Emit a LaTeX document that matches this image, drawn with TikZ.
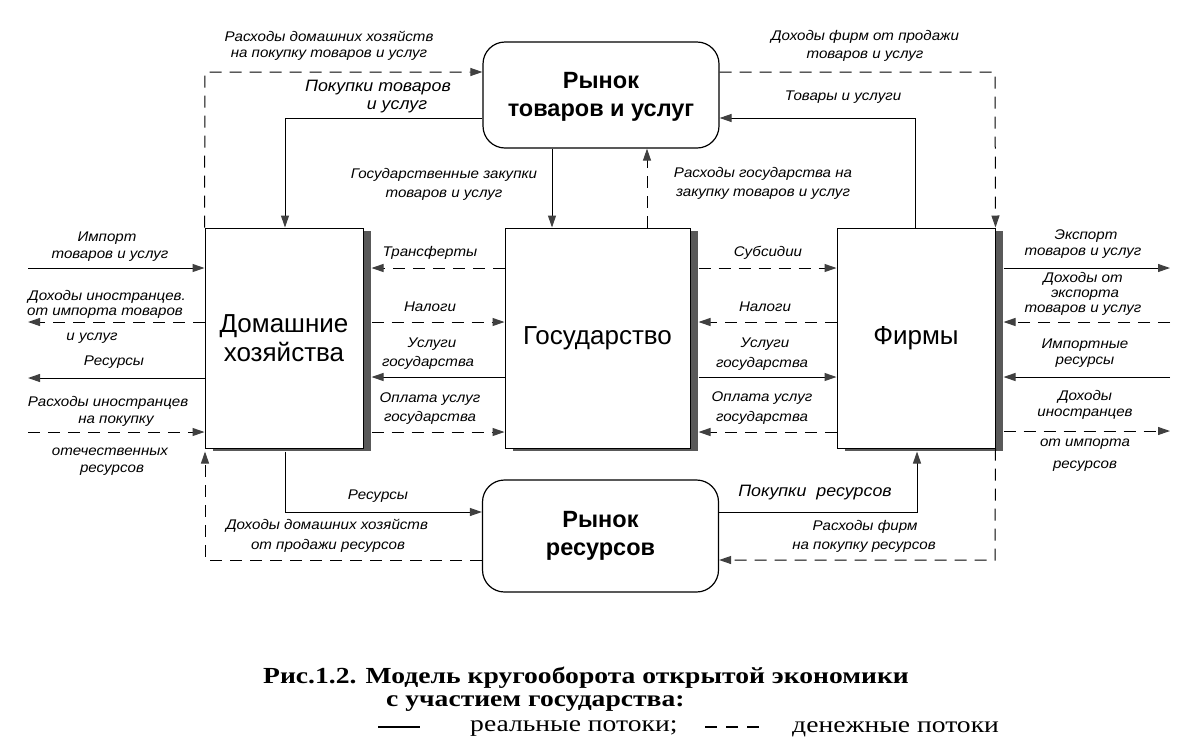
\documentclass[tikz,border=0pt]{standalone}
\usepackage{fontspec}
\setmainfont{Liberation Sans}
\newfontfamily\lblfont[FakeStretch=1.08]{Liberation Sans}
\newfontfamily\capfont[FakeStretch=1.2]{Liberation Serif}
\usetikzlibrary{arrows.meta,shadows,calc}
\begin{document}
\begin{tikzpicture}[x=1pt,y=-1pt,
  lbl/.style={font=\lblfont\fontsize{14}{17}\selectfont\itshape, inner sep=0pt, align=center},
  lblbig/.style={font=\lblfont\fontsize{16.5}{19}\selectfont\itshape, inner sep=0pt, align=center},
  agent/.style={draw, line width=1pt, fill=white, minimum width=158pt, minimum height=220pt,
     font=\fontsize{26}{29}\selectfont, align=center,
     drop shadow={shadow xshift=8pt, shadow yshift=-3pt, fill=black!65, opacity=1}},
  market/.style={draw, line width=1.2pt, rounded corners=22pt, fill=white, minimum width=236pt},
  mtext/.style={font=\fontsize{23.5}{28}\selectfont\bfseries, align=center, inner sep=0pt},
  real/.style={line width=1pt},
  money/.style={line width=1pt, dash pattern=on 12pt off 8pt},
  arr/.style={-{Triangle[length=12pt,width=8pt,fill=black!75,color=black!75]}},
  legline/.style={line width=1.2pt},
  captxt/.style={font=\capfont\fontsize{23}{26}\selectfont, anchor=west, inner sep=0pt}
]
\fill[white] (0,0) rectangle (1195,748);
\useasboundingbox (0,0) rectangle (1195,748);

% boxes
\node[agent] (hh) at (284,338) {Домашние\\хозяйства};
\node[agent, minimum width=185pt] (gov) at (597.5,338) {Государство};
\node[agent] (firm) at (916,338) {Фирмы};
\node[market, minimum height=106pt] (mg) at (601,95) {};
\node[mtext] (mgt) at (601,97) {Рынок\\товаров и услуг};
\node[market, minimum height=112pt] (mr) at (600.5,536) {};
\node[mtext] (mrt) at (600.5,536) {Рынок\\ресурсов};

% helper coordinates
\coordinate (hhR) at ($(hh.east)+(8,0)$);
\coordinate (govR) at ($(gov.east)+(8,0)$);
\coordinate (firmR) at ($(firm.east)+(8,0)$);
\coordinate (hhB) at ($(hh.south)+(0,3)$);
\coordinate (L1) at (0,268);
\coordinate (L2) at (0,322);
\coordinate (L3) at (0,377);
\coordinate (L4) at (0,432);
\coordinate (W1) at (28,268);
\coordinate (W2) at (28,322);
\coordinate (W3) at (28,378);
\coordinate (W4) at (28,432);
\coordinate (E1) at (1170,268);
\coordinate (E2) at (1170,322);
\coordinate (E3) at (1170,377);
\coordinate (E4) at (1170,431);

% households <-> government
\draw[money,arr] (gov.west |- L1) -- (hhR |- L1);
\draw[money,arr] (hhR |- L2) -- (gov.west |- L2);
\draw[real,arr] (gov.west |- L3) -- (hhR |- L3);
\draw[money,arr] (hhR |- L4) -- (gov.west |- L4);
% government <-> firms
\draw[money,arr] (govR |- L1) -- (firm.west |- L1);
\draw[money,arr] (firm.west |- L2) -- (govR |- L2);
\draw[real,arr] (govR |- L3) -- (firm.west |- L3);
\draw[money,arr] (firm.west |- L4) -- (govR |- L4);
% left side
\draw[real,arr] (W1) -- (hh.west |- W1);
\draw[money,arr] (hh.west |- W2) -- (W2);
\draw[real,arr] (hh.west |- W3) -- (W3);
\draw[money,arr] (W4) -- (hh.west |- W4);
% right side
\draw[real,arr] (firmR |- E1) -- (E1);
\draw[money,arr] (E2) -- (firmR |- E2);
\draw[real,arr] (E3) -- (firmR |- E3);
\draw[money,arr] (firmR |- E4) -- (E4);

% top loops
\coordinate (T1) at (205,72);
\coordinate (T2) at (995,72);
\coordinate (P1) at (285,118);
\coordinate (P2) at (915,118);
\coordinate (G1) at (552,0);
\coordinate (G2) at (647,0);
\draw[money,arr] (hh.north west) -- (T1) -- (mg.west |- T1);
\draw[money,arr] (mg.east |- T2) -- (T2) -- (firm.north east);
\draw[real,arr] (mg.west |- P1) -- (P1) -- (P1 |- hh.north);
\draw[real,arr] (P2 |- firm.north) -- (P2) -- (mg.east |- P2);
\draw[real,arr] (G1 |- mg.south) -- (G1 |- gov.north);
\draw[money,arr] (G2 |- gov.north) -- (G2 |- mg.south);

% bottom loops
\coordinate (R1) at (285,512);
\coordinate (R2) at (205,560);
\coordinate (R3) at (917,512);
\coordinate (R4) at (995,560);
\draw[real,arr] (R1 |- hhB) -- (R1) -- (mr.west |- R1);
\draw[money,arr] (mr.west |- R2) -- (R2) -- (R2 |- hhB);
\draw[real,arr] (mr.east |- R3) -- (R3) -- (R3 |- hhB);
\draw[money,arr] (firm.south east) -- (R4) -- (mr.east |- R4);

% top labels
\node[lbl] (t1) at (329,36) {Расходы домашних хозяйств};
\node[lbl] (t2) at (329,55) {на покупку товаров и услуг};
\node[lblbig] (t3) at (378,88) {Покупки товаров};
\node[lblbig] (t4) at (397,107) {и услуг};
\node[lbl] (t5) at (444,175) {Государственные закупки};
\node[lbl] (t6) at (444,195) {товаров и услуг};
\node[lbl] (t7) at (763,174) {Расходы государства на};
\node[lbl] (t8) at (763,194) {закупку товаров и услуг};
\node[lbl] (t9) at (865,37) {Доходы фирм от продажи};
\node[lbl] (t10) at (865,56) {товаров и услуг};
\node[lbl] (t11) at (843,97) {Товары и услуги};

% middle labels (households - government)
\node[lbl] (m1) at (430,253) {Трансферты};
\node[lbl] (m2) at (430,307) {Налоги};
\node[lbl] (m3) at (432,344) {Услуги};
\node[lbl] (m4) at (428,363) {государства};
\node[lbl] (m5) at (430,399) {Оплата услуг};
\node[lbl] (m6) at (430,418) {государства};
% middle labels (government - firms)
\node[lbl] (n1) at (768,253) {Субсидии};
\node[lbl] (n2) at (765,307) {Налоги};
\node[lbl] (n3) at (765,344) {Услуги};
\node[lbl] (n4) at (762,364) {государства};
\node[lbl] (n5) at (762,398) {Оплата услуг};
\node[lbl] (n6) at (762,418) {государства};

% left labels
\node[lbl] (w1) at (107,238) {Импорт};
\node[lbl] (w2) at (110,256) {товаров и услуг};
\node[lbl] (w3) at (107,297) {Доходы иностранцев.};
\node[lbl] (w4) at (105,313) {от импорта товаров};
\node[lbl] (w5) at (92,338) {и услуг};
\node[lbl] (w6) at (114,362) {Ресурсы};
\node[lbl] (w7) at (108,403) {Расходы иностранцев};
\node[lbl] (w8) at (116,421) {на покупку};
\node[lbl] (w9) at (110,452) {отечественных};
\node[lbl] (w10) at (112,470) {ресурсов};

% right labels
\node[lbl] (e1) at (1086,236) {Экспорт};
\node[lbl] (e2) at (1083,253) {товаров и услуг};
\node[lbl] (e3) at (1083,279) {Доходы от};
\node[lbl] (e4) at (1085,295) {экспорта};
\node[lbl] (e5) at (1083,310) {товаров и услуг};
\node[lbl] (e6) at (1085,345) {Импортные};
\node[lbl] (e7) at (1085,362) {ресурсы};
\node[lbl] (e8) at (1085,397) {Доходы};
\node[lbl] (e9) at (1085,414) {иностранцев};
\node[lbl] (e10) at (1085,444) {от импорта};
\node[lbl] (e11) at (1085,466) {ресурсов};

% bottom labels
\node[lbl] (b1) at (378,496) {Ресурсы};
\node[lbl] (b2) at (327,526) {Доходы домашних хозяйств};
\node[lbl] (b3) at (328,546) {от продажи ресурсов};
\node[lblbig] (b4) at (815,493) {Покупки\ \ ресурсов};
\node[lbl] (b5) at (865,527) {Расходы фирм};
\node[lbl] (b6) at (864,547) {на покупку ресурсов};

% caption
\node[captxt, font=\capfont\bfseries\fontsize{23}{26}\selectfont] (c1) at (263,678) {Рис.1.2. Модель кругооборота открытой экономики};
\node[captxt, font=\capfont\bfseries\fontsize{23}{26}\selectfont] (c2) at (386,704) {с участием государства:};
\coordinate (la) at (378,727);
\coordinate (lb) at (420,727);
\draw[legline] (la) -- (lb);
\node[captxt] (c3) at (470,729) {реальные потоки;};
\coordinate (lc) at (705,727);
\coordinate (ld) at (767,727);
\draw[legline, dash pattern=on 12pt off 9pt] (lc) -- (ld);
\node[captxt] (c4) at (792,729) {денежные потоки};
\end{tikzpicture}
\end{document}
